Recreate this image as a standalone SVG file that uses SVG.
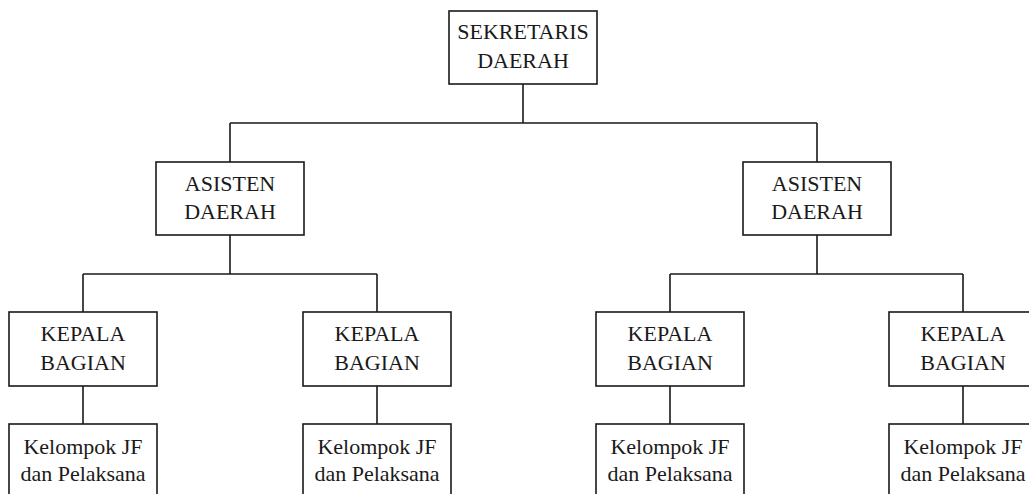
<svg xmlns="http://www.w3.org/2000/svg" width="1029" height="494" viewBox="0 0 1029 494">
<style>
.box{fill:#fff;stroke:#1a1a1a;stroke-width:1.6}
.t{font-family:"Liberation Serif","Times New Roman",serif;font-size:22px;fill:#1a1a1a;text-anchor:middle}
.c{fill:none;stroke:#1a1a1a;stroke-width:1.6}
</style>
<rect width="1029" height="494" fill="#fff"/>
<g id="connectors">
<path class="c" d="M523 84V123M230 123H817M230 123V162M817 123V162"/>
<path class="c" d="M230 235V274M83 274H377M83 274V312M377 274V312"/>
<path class="c" d="M817 235V274M670 274H963M670 274V312M963 274V312"/>
<path class="c" d="M83 386V424M377 386V424M670 386V424M963 386V424"/>
</g>
<g id="sekretaris">
<rect class="box" x="449" y="11" width="148" height="73"/>
<text class="t" x="523" y="39">SEKRETARIS</text>
<text class="t" x="523" y="68">DAERAH</text>
</g>
<g id="asisten1">
<rect class="box" x="156" y="162" width="148" height="73"/>
<text class="t" x="230" y="191">ASISTEN</text>
<text class="t" x="230" y="219">DAERAH</text>
</g>
<g id="asisten2">
<rect class="box" x="743" y="162" width="148" height="73"/>
<text class="t" x="817" y="191">ASISTEN</text>
<text class="t" x="817" y="219">DAERAH</text>
</g>
<g id="kepala1">
<rect class="box" x="9" y="312" width="148" height="74"/>
<text class="t" x="83" y="341">KEPALA</text>
<text class="t" x="83" y="370">BAGIAN</text>
</g>
<g id="kepala2">
<rect class="box" x="303" y="312" width="148" height="74"/>
<text class="t" x="377" y="341">KEPALA</text>
<text class="t" x="377" y="370">BAGIAN</text>
</g>
<g id="kepala3">
<rect class="box" x="596" y="312" width="148" height="74"/>
<text class="t" x="670" y="341">KEPALA</text>
<text class="t" x="670" y="370">BAGIAN</text>
</g>
<g id="kepala4">
<rect class="box" x="889" y="312" width="148" height="74"/>
<text class="t" x="963" y="341">KEPALA</text>
<text class="t" x="963" y="370">BAGIAN</text>
</g>
<g id="jf1">
<rect class="box" x="9" y="424" width="148" height="80"/>
<text class="t" x="83" y="454">Kelompok JF</text>
<text class="t" x="83" y="481">dan Pelaksana</text>
</g>
<g id="jf2">
<rect class="box" x="303" y="424" width="148" height="80"/>
<text class="t" x="377" y="454">Kelompok JF</text>
<text class="t" x="377" y="481">dan Pelaksana</text>
</g>
<g id="jf3">
<rect class="box" x="596" y="424" width="148" height="80"/>
<text class="t" x="670" y="454">Kelompok JF</text>
<text class="t" x="670" y="481">dan Pelaksana</text>
</g>
<g id="jf4">
<rect class="box" x="889" y="424" width="148" height="80"/>
<text class="t" x="963" y="454">Kelompok JF</text>
<text class="t" x="963" y="481">dan Pelaksana</text>
</g>
</svg>
